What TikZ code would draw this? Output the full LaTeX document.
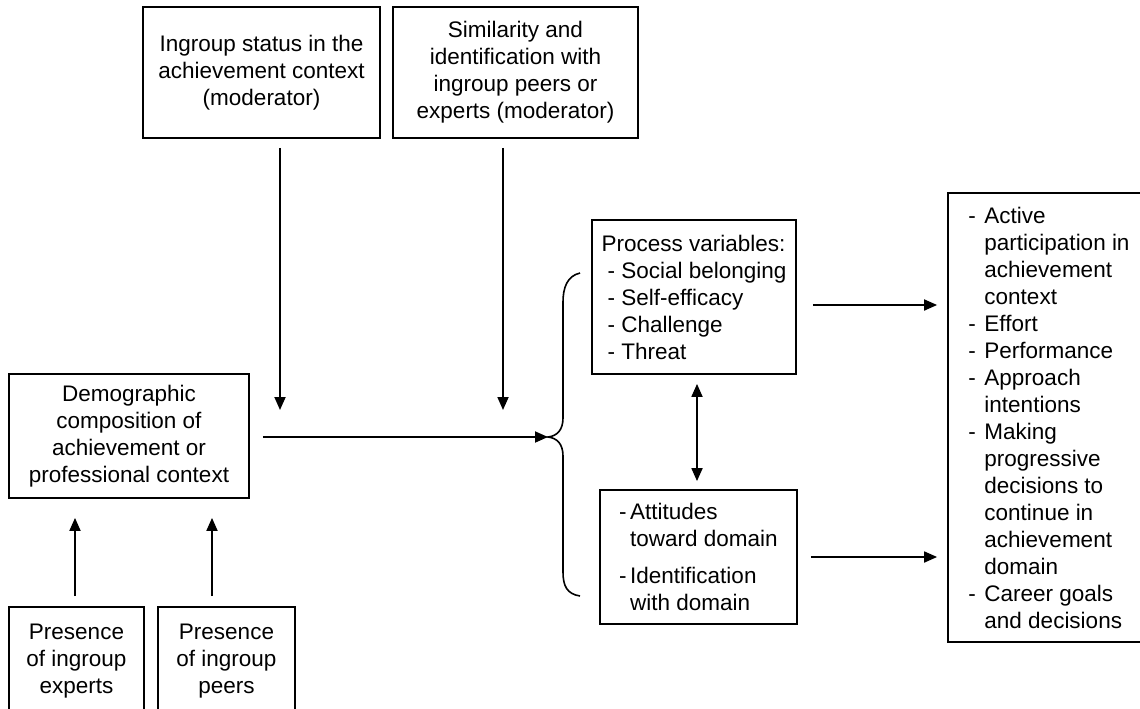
\documentclass[tikz,border=0pt]{standalone}
\usepackage{fontspec}
\setmainfont{Liberation Sans}
\usetikzlibrary{shapes,arrows,arrows.meta,positioning}
\tikzstyle{box}=[shape=rectangle, draw, line width=1.8pt, inner sep=0pt, align=center]
\tikzstyle{lbox}=[shape=rectangle, draw, line width=1.8pt, inner sep=0pt, align=left]
\tikzstyle{arr}=[-{Triangle[length=13pt,width=11pt]}]
\tikzstyle{darr}=[{Triangle[length=13pt,width=11pt]}-{Triangle[length=13pt,width=11pt]}]
\newcommand{\itm}[1][16pt]{\makebox[#1][l]{-}}
\newcommand{\cnt}[1][16pt]{\hspace*{#1}}

\begin{document}
\begin{tikzpicture}[x=1pt,y=-1pt,line width=1.8pt,font=\fontsize{22.5}{27}\selectfont]
\useasboundingbox (0,0) rectangle (1140,709);
\clip (0,0) rectangle (1140,709);

% moderators
\node (ing) [box,minimum width=237pt,minimum height=131pt] at (261.5,72.5) {Ingroup status in the\\achievement context\\(moderator)};
\node (sim) [box,minimum width=245pt,minimum height=131pt] at (515.5,72.5) {Similarity and\\identification with\\ingroup peers or\\experts (moderator)};

% context
\node (demo) [box,minimum width=240pt,minimum height=124pt] at (129,436) {Demographic\\composition of\\achievement or\\professional context};
\node (expert) [box,minimum width=135pt,minimum height=108pt] at (76.5,661) {Presence\\of ingroup\\experts};
\node (peer) [box,minimum width=137pt,minimum height=108pt] at (226.5,661) {Presence\\of ingroup\\peers};

% mediators
\node (proc) [lbox,minimum width=204pt,minimum height=154pt] at (694,297) {Process variables:\\\hspace*{6pt}- Social belonging\\\hspace*{6pt}- Self-efficacy\\\hspace*{6pt}- Challenge\\\hspace*{6pt}- Threat};
\node (att) [lbox,minimum width=197pt,minimum height=134pt] at (698.5,557) {\itm[11pt]Attitudes\\\cnt[11pt]toward domain\\[10pt]\itm[11pt]Identification\\\cnt[11pt]with domain};

% outcomes
\node (outc) [lbox,minimum width=202pt,minimum height=449pt] at (1049,417.5) {\itm Active\\\cnt participation in\\\cnt achievement\\\cnt context\\\itm Effort\\\itm Performance\\\itm Approach\\\cnt intentions\\\itm Making\\\cnt progressive\\\cnt decisions to\\\cnt continue in\\\cnt achievement\\\cnt domain\\\itm Career goals\\\cnt and decisions};

\coordinate (ingend) at (280,410);
\coordinate (simend) at (503,410);
\coordinate (brace) at (548,437);

\draw[line width=1.6pt] (580,273) .. controls (567,276) and (563,288) .. (563,302) -- (563,418) .. controls (563,430) and (557,436) .. (brace) .. controls (557,438) and (563,444) .. (563,456) -- (563,572) .. controls (563,586) and (567,594) .. (580,596);

\draw[arr, shorten <=9pt] (ing.south -| ingend) -- (ingend);
\draw[arr, shorten <=9pt] (sim.south -| simend) -- (simend);
\draw[arr, shorten <=13pt] (demo.east |- brace) -- (brace);
\draw[arr, shorten <=10pt, shorten >=19pt] ([xshift=-1.5pt]expert.north) -- ([xshift=-1.5pt]expert.north |- demo.south);
\draw[arr, shorten <=10pt, shorten >=19pt] ([xshift=-14.5pt]peer.north) -- ([xshift=-14.5pt]peer.north |- demo.south);
\draw[darr, shorten <=9pt, shorten >=8pt] ([xshift=3pt]proc.south) -- ([xshift=3pt]proc.south |- att.north);
\draw[arr, shorten <=16pt, shorten >=10pt] ([yshift=-8pt]proc.east) -- ([yshift=-8pt]proc.east -| outc.west);
\draw[arr, shorten <=13pt, shorten >=10pt] (att.east) -- (att.east -| outc.west);

\end{tikzpicture}
\end{document}
